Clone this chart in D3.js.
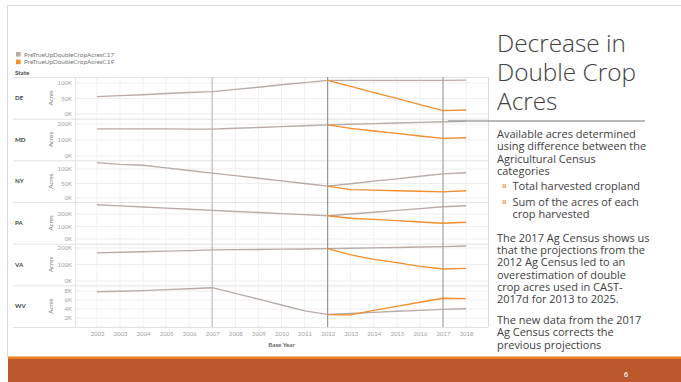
<!DOCTYPE html>
<html>
<head>
<meta charset="utf-8">
<script src="https://cdn.jsdelivr.net/npm/d3@7"></script>
<style>
  body { margin: 0; background: #fff; }
  svg { display: block; }
</style>
</head>
<body>
<svg id="slide" width="681" height="382"></svg>
<script>
// ---- data (thousand acres) ----
const years = d3.range(2002, 2019);
const states = ["DE", "MD", "NY", "PA", "VA", "WV"];
const seriesNames = ["PreTrueUpDoubleCropAcresC17", "PreTrueUpDoubleCropAcresC19"];

const c17DE = [56, 59, 62, 66, 69, 72, 79, 86, 94, 101, 108, 108, 108, 108, 108, 108, 109];
const c17MD = [169, 169, 169, 169, 168, 168, 173, 178, 183, 189, 194, 198, 202, 206, 210, 214, 217];
const c17NY = [122, 116, 113, 104, 95, 86, 77, 68, 59, 50, 41, 49, 58, 66, 75, 83, 87];
const c17PA = [274, 265, 256, 247, 238, 229, 220, 212, 203, 195, 186, 200, 214, 229, 243, 258, 266];
const c17VA = [170, 174, 177, 181, 184, 188, 190, 191, 193, 194, 196, 198, 201, 203, 206, 208, 212];
const c17WV = [7.85, 7.95, 8.1, 8.3, 8.5, 8.74, 7.5, 6.2, 4.9, 3.6, 2.8, 3.0, 3.25, 3.5, 3.7, 3.93, 4.07];

const N = null;
const c19DE = [N, N, N, N, N, N, N, N, N, N, 108, 89, 69, 50, 30, 11, 13];
const c19MD = [N, N, N, N, N, N, N, N, N, N, 194, 172, 156, 141, 125, 110, 114];
const c19NY = [N, N, N, N, N, N, N, N, N, N, 41, 29, 27, 25, 23, 21, 25];
const c19PA = [N, N, N, N, N, N, N, N, N, N, 186, 166, 157, 147, 136, 126, 134];
const c19VA = [N, N, N, N, N, N, N, N, N, N, 196, 158, 131, 111, 89, 73, 77];
const c19WV = [N, N, N, N, N, N, N, N, N, N, 2.75, 2.7, 3.7, 4.6, 5.5, 6.4, 6.3];

const c17 = { DE: c17DE, MD: c17MD, NY: c17NY, PA: c17PA, VA: c17VA, WV: c17WV };
const c19 = { DE: c19DE, MD: c19MD, NY: c19NY, PA: c19PA, VA: c19VA, WV: c19WV };

const yDomains = { DE: [-15, 119], MD: [-27, 233], NY: [-14, 130], PA: [-38, 296], VA: [-26, 226], WV: [0, 9.27] };
const yTicks = { DE: [0, 50, 100], MD: [0, 100, 200], NY: [0, 50, 100], PA: [0, 100, 200], VA: [0, 100, 200], WV: [2, 4, 6, 8] };
const refYears = [2007, 2012, 2017];

const titleLines = ["Decrease in", "Double Crop", "Acres"];
const introLines = ["Available acres determined", "using difference between the", "Agricultural Census", "categories"];
const bulletItems = [["Total harvested cropland"], ["Sum of the acres of each", "crop harvested"]];
const para2Lines = ["The 2017 Ag Census shows us", "that the projections from the", "2012 Ag Census led to an", "overestimation of double", "crop acres used in CAST-", "2017d for 2013 to 2025."];
const para3Lines = ["The new data from the 2017", "Ag Census corrects the", "previous projections"];

// ---- styling ----
const colC17 = "#B8ABA6", colC19 = "#F28E2B";
const accent = "#E8821E";
const chartFont = "Lato, 'Open Sans', sans-serif";
const slideFont = "'Open Sans', 'Noto Sans', sans-serif";

const svg = d3.select("#slide");

// ---- slide frame ----
svg.append("line").attr("x1", 7).attr("x2", 681).attr("y1", 5.5).attr("y2", 5.5)
  .attr("stroke", "#d9d9d9").attr("stroke-width", 1);
svg.append("line").attr("x1", 7.5).attr("x2", 7.5).attr("y1", 5).attr("y2", 357)
  .attr("stroke", "#d9d9d9").attr("stroke-width", 1);
svg.append("rect").attr("x", 8).attr("y", 356.5).attr("width", 673).attr("height", 2.8).attr("fill", "#EA7F1F");
svg.append("rect").attr("x", 8).attr("y", 359).attr("width", 673).attr("height", 23).attr("fill", "#BC592C");
svg.append("text").attr("x", 624).attr("y", 377).attr("fill", "#fff")
  .attr("font-family", slideFont).attr("font-size", 7).attr("font-weight", 600).text("6");

// ---- chart geometry ----
const left = 75, right = 488, top0 = 77, bottom = 327;
const ph = (bottom - top0) / states.length;
const x = d3.scaleLinear().domain([2001.05, 2018.95]).range([left, right]);

const chart = svg.append("g").attr("font-family", chartFont);

// legend
seriesNames.forEach((name, i) => {
  const yy = 52 + i * 7.6;
  chart.append("rect").attr("x", 16).attr("y", yy).attr("width", 4.6).attr("height", 4.6)
    .attr("fill", i === 0 ? colC17 : colC19);
  chart.append("text").attr("x", 24).attr("y", yy + 4.6).attr("font-size", 6.4).attr("fill", "#777").text(name);
});
chart.append("text").attr("x", 15).attr("y", 75.3).attr("font-size", 6.2).attr("font-weight", 700)
  .attr("fill", "#444").text("State");

// vertical gridlines for each year
chart.append("g").selectAll("line").data(years).join("line")
  .attr("x1", d => x(d)).attr("x2", d => x(d)).attr("y1", top0).attr("y2", bottom)
  .attr("stroke", "#f0f0f0").attr("stroke-width", 1);

states.forEach((s, i) => {
  const ty = top0 + i * ph;
  const g = chart.append("g").attr("transform", `translate(0,${ty})`);
  const y = d3.scaleLinear().domain(yDomains[s]).range([ph, 0]);

  // horizontal gridlines
  g.append("g").selectAll("line").data(yTicks[s]).join("line")
    .attr("x1", left).attr("x2", right).attr("y1", d => y(d)).attr("y2", d => y(d))
    .attr("stroke", "#eeeeee").attr("stroke-width", 1);

  // y axis
  const ax = g.append("g").attr("transform", `translate(${left},0)`)
    .call(d3.axisLeft(y).tickValues(yTicks[s]).tickSize(0).tickPadding(3).tickFormat(d => d + "K"));
  ax.select(".domain").remove();
  ax.selectAll("text").attr("font-size", 6).attr("fill", "#a0a0a0").attr("font-family", chartFont);

  // row header
  g.append("text").attr("x", 15).attr("y", ph / 2 + 2.2).attr("font-size", 6.2).attr("font-weight", 700)
    .attr("fill", "#444").text(s);
  g.append("text").attr("transform", `translate(52.5,${ph / 2}) rotate(-90)`).attr("text-anchor", "middle")
    .attr("font-size", 6.2).attr("fill", "#777").text("Acres");

  // row separator
  g.append("line").attr("x1", 13).attr("x2", right).attr("y1", 0.5).attr("y2", 0.5)
    .attr("stroke", "#e2e2e2").attr("stroke-width", 1);
});

// bottom line, axis line, right border
chart.append("line").attr("x1", 13).attr("x2", right).attr("y1", bottom + 0.5).attr("y2", bottom + 0.5)
  .attr("stroke", "#e2e2e2");
chart.append("line").attr("x1", left + 0.5).attr("x2", left + 0.5).attr("y1", top0).attr("y2", bottom)
  .attr("stroke", "#e2e2e2");
chart.append("line").attr("x1", right + 0.5).attr("x2", right + 0.5).attr("y1", top0).attr("y2", bottom)
  .attr("stroke", "#dcdcdc");

// reference lines
const refColors = ["#c6c6c6", "#8f8f8f", "#9c9c9c"];
refYears.forEach((yr, k) => {
  chart.append("line").attr("x1", x(yr)).attr("x2", x(yr)).attr("y1", top0).attr("y2", bottom)
    .attr("stroke", refColors[k]).attr("stroke-width", k === 0 ? 1.4 : 1.1);
});

// series lines
states.forEach((s, i) => {
  const ty = top0 + i * ph;
  const y = d3.scaleLinear().domain(yDomains[s]).range([ph, 0]);
  const g = chart.append("g").attr("transform", `translate(0,${ty})`);
  const line = d3.line().x(d => x(d.year)).y(d => y(d.v));
  [[c17[s], colC17], [c19[s], colC19]].forEach(([vals, col]) => {
    const pts = years.map((yr, j) => ({ year: yr, v: vals[j] })).filter(d => d.v != null);
    g.append("path").datum(pts).attr("d", line).attr("fill", "none")
      .attr("stroke", col).attr("stroke-width", 1.35).attr("stroke-linejoin", "round");
  });
});

// x axis
const xa = chart.append("g").attr("transform", `translate(0,${bottom})`)
  .call(d3.axisBottom(x).tickValues(years).tickSize(0).tickPadding(5).tickFormat(d3.format("d")));
xa.select(".domain").remove();
xa.selectAll("text").attr("font-size", 6).attr("fill", "#a0a0a0").attr("font-family", chartFont);
chart.append("text").attr("x", (left + right) / 2).attr("y", 347).attr("text-anchor", "middle")
  .attr("font-size", 6.2).attr("font-weight", 700).attr("fill", "#666").text("Base Year");

// ---- slide text ----
function fitSize(text, family, weight, target) {
  const t = svg.append("text").attr("font-family", family).attr("font-weight", weight)
    .attr("font-size", 20).text(text);
  const w = t.node().getComputedTextLength();
  t.remove();
  return 20 * target / w;
}

// one text element per paragraph, one tspan per line
function paragraph(parent, lines, x0, y0, lineHeight) {
  const t = parent.append("text").attr("x", x0).attr("y", y0);
  lines.forEach((l, k) => t.append("tspan").attr("x", x0).attr("dy", k === 0 ? 0 : lineHeight).text(l));
  return t;
}

const tx = 497;
const titleSize = fitSize("Double Crop", slideFont, 300, 139);
const title = svg.append("g").attr("font-family", slideFont).attr("font-weight", 300)
  .attr("font-size", titleSize).attr("fill", "#404040");
paragraph(title, titleLines, tx, 52, 29);

svg.append("line").attr("x1", 448).attr("x2", 645).attr("y1", 121).attr("y2", 121)
  .attr("stroke", "#a3a3a3").attr("stroke-width", 1.5);

const bodySize = fitSize(introLines[0], slideFont, 400, 139);
const body = svg.append("g").attr("font-family", slideFont).attr("font-size", bodySize).attr("fill", "#404040");
const lh = 12.35;
paragraph(body, introLines, tx, 138, lh);
const bulletY = [190, 206];
bulletItems.forEach((item, k) => {
  svg.append("rect").attr("x", 503).attr("y", bulletY[k] - 5.2).attr("width", 2.6).attr("height", 2.6)
    .attr("fill", "#fde5cf").attr("stroke", accent).attr("stroke-width", 0.7);
  paragraph(body, item, 512.5, bulletY[k], lh);
});
paragraph(body, para2Lines, tx, 241.7, lh);
paragraph(body, para3Lines, tx, 324, lh);
</script>
</body>
</html>
